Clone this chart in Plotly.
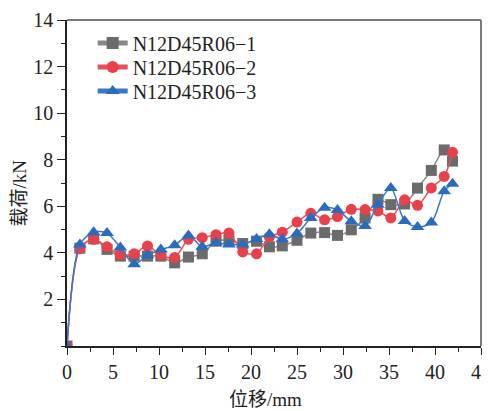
import plotly.graph_objects as go

x_vals = [0, 1.4, 2.9, 4.35, 5.8, 7.3, 8.75, 10.2, 11.7, 13.2, 14.7, 16.2, 17.6, 19.1, 20.6,
          22.0, 23.4, 25.0, 26.5, 28.0, 29.4, 30.9, 32.4, 33.8, 35.2, 36.7, 38.1, 39.6, 41.0, 41.9]

s1_name = "N12D45R06\u22121"
s1_y = [0, 4.2, 4.6, 4.15, 3.86, 3.86, 3.86, 3.86, 3.57, 3.82, 3.96, 4.5, 4.54, 4.4, 4.5,
        4.26, 4.3, 4.54, 4.85, 4.87, 4.75, 4.99, 5.5, 6.3, 6.07, 6.1, 6.78, 7.54, 8.42, 7.94]

s2_name = "N12D45R06\u22122"
s2_y = [0, 4.18, 4.58, 4.26, 3.92, 3.96, 4.29, 3.9, 3.8, 4.58, 4.65, 4.78, 4.85, 4.04, 3.96,
        4.68, 4.89, 5.32, 5.7, 5.42, 5.56, 5.87, 5.86, 5.8, 5.5, 6.28, 6.04, 6.79, 7.28, 8.32]

s3_name = "N12D45R06\u22123"
s3_y = [0, 4.36, 4.89, 4.85, 4.23, 3.51, 3.9, 4.14, 4.33, 4.75, 4.26, 4.43, 4.36, 4.36, 4.6,
        4.8, 4.58, 4.83, 5.5, 5.94, 5.84, 5.36, 5.15, 6.07, 6.78, 5.37, 5.11, 5.3, 6.65, 6.97]

x_ticks = [0, 5, 10, 15, 20, 25, 30, 35, 40, 45]
y_ticks = [2, 4, 6, 8, 10, 12, 14]
x_title = "位移/mm"
y_title = "载荷/kN"

font_main = "Liberation Serif, Times New Roman, Noto Sans CJK SC, serif"

series = [
    (s1_name, s1_y, "#888888", "#6b6b6b", "square", 11, "legend"),
    (s2_name, s2_y, "#e8515a", "#e8414b", "circle", 11, "legend2"),
    (s3_name, s3_y, "#3a78c8", "#2a6bbf", "triangle-up", 12, "legend3"),
]

fig = go.Figure()
for name, ys, lc, mc, sym, sz, lg in series:
    fig.add_trace(go.Scatter(
        x=x_vals, y=ys, name=name, mode="lines+markers", legend=lg,
        line=dict(color=lc, width=1.5, shape="spline", smoothing=0.8),
        marker=dict(symbol=sym, size=sz, color=mc),
    ))

# The page body adds an 8px offset; figure is sized so the plot area lands at
# x 67..481, y 20..346 in the window.
PLOT_TOP, PLOT_H = 20, 326

def ypaper(px):
    return 1 - (px - PLOT_TOP) / PLOT_H

legend_common = dict(x=0.062, xanchor="left", yanchor="middle", bgcolor="rgba(0,0,0,0)",
                     font=dict(size=20, family=font_main, color="#222222"),
                     itemsizing="constant")

fig.update_layout(
    width=482, height=403,
    margin=dict(l=59, r=9, t=12, b=65, autoexpand=False),
    plot_bgcolor="white", paper_bgcolor="white",
    font=dict(family=font_main, size=20, color="#222222"),
    showlegend=True,
    legend=dict(legend_common, y=ypaper(43)),
    legend2=dict(legend_common, y=ypaper(67)),
    legend3=dict(legend_common, y=ypaper(91)),
    xaxis=dict(range=[0, 45], tickvals=x_ticks, showgrid=False, zeroline=False,
               automargin=False, ticklabeloverflow="allow",
               showline=True, linecolor="#222222", linewidth=1.5,
               ticks="outside", ticklen=7, tickwidth=1.2, tickcolor="#222222",
               minor=dict(ticks="outside", ticklen=4, tickwidth=1.2, tickcolor="#222222", dtick=2.5)),
    yaxis=dict(range=[0, 14], tickvals=y_ticks, showgrid=False, zeroline=False,
               automargin=False, ticklabeloverflow="allow",
               showline=True, linecolor="#222222", linewidth=1.5,
               ticks="outside", ticklen=8, tickwidth=1.2, tickcolor="#222222",
               minor=dict(ticks="outside", ticklen=4, tickwidth=1.2, tickcolor="#222222", dtick=1)),
    annotations=[
        dict(text=x_title, xref="paper", yref="paper", x=(265.5 - 67) / 414, y=(346 - 399) / 326,
             xanchor="center", yanchor="middle", showarrow=False,
             font=dict(size=19, family=font_main, color="#222222")),
        dict(text=y_title, xref="paper", yref="paper", x=(18.5 - 67) / 414, y=(346 - 193) / 326,
             xanchor="center", yanchor="middle", showarrow=False, textangle=-90,
             font=dict(size=19, family=font_main, color="#222222")),
    ],
    shapes=[
        dict(type="line", xref="paper", yref="paper", x0=0, x1=1, y0=1, y1=1,
             line=dict(color="#7a7a7a", width=2)),
        dict(type="line", xref="paper", yref="paper", x0=1, x1=1, y0=0, y1=1,
             line=dict(color="#7a7a7a", width=2)),
    ],
)

fig.write_html("out.html")
